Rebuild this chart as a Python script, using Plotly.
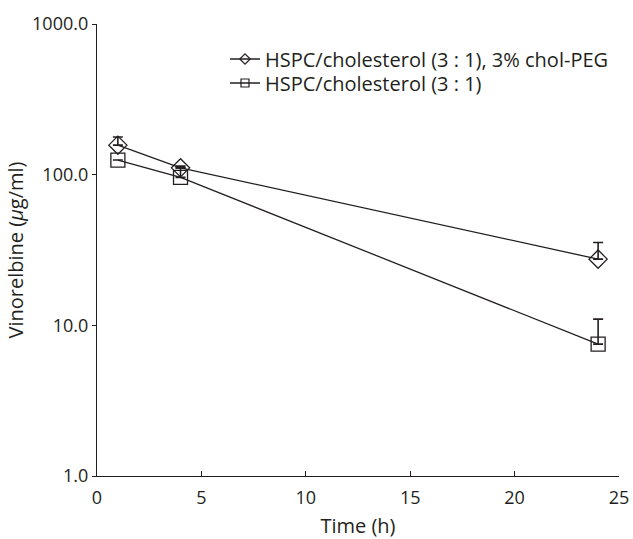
import plotly.graph_objects as go

# Sampling times (h)
time_peg = [1, 4, 24]
time_plain = [1, 4, 24]

# Vinorelbine concentration (µg/ml) with upper SD
conc_peg = [157, 111, 27.5]
err_peg = [21, 3, 8]
conc_plain = [125, 96, 7.5]
err_plain = [0, 15, 3.5]

name_peg = "HSPC/cholesterol (3 : 1), 3% chol-PEG"
name_plain = "HSPC/cholesterol (3 : 1)"

y_ticks = [1, 10, 100, 1000]
y_tick_text = ["1.0", "10.0", "100.0", "1000.0"]
x_ticks = [0, 5, 10, 15, 20, 25]

ink = "#231f20"
font_family = "Open Sans, Noto Sans, sans-serif"


def series(x, y, err, symbol):
    return go.Scatter(
        x=x, y=y, mode="lines+markers", showlegend=False,
        line=dict(color=ink, width=1.3),
        marker=dict(symbol=symbol, size=14, color=ink, line=dict(width=1.3)),
        error_y=dict(type="data", symmetric=False, array=err,
                     arrayminus=[0] * len(err), color=ink, thickness=1.6, width=5),
    )


def legend_entry(name, symbol, legend_id):
    # legend-only entry with a smaller symbol than the plotted markers
    return go.Scatter(
        x=[None], y=[None], name=name, mode="lines+markers", legend=legend_id,
        line=dict(color=ink, width=1.3),
        marker=dict(symbol=symbol, size=8, color=ink, line=dict(width=1.2)),
    )


fig = go.Figure()
fig.add_trace(series(time_peg, conc_peg, err_peg, "diamond-open"))
fig.add_trace(series(time_plain, conc_plain, err_plain, "square-open"))
fig.add_trace(legend_entry(name_peg, "diamond-open", "legend"))
fig.add_trace(legend_entry(name_plain, "square-open", "legend2"))

legend_style = dict(x=0.2452, xanchor="left", yanchor="middle",
                    bgcolor="rgba(0,0,0,0)", font=dict(size=20), itemwidth=30)

fig.update_layout(
    width=633, height=539,
    margin=dict(l=97, r=14, t=24, b=63, autoexpand=False),
    paper_bgcolor="white", plot_bgcolor="white",
    font=dict(family=font_family, size=17, color=ink),
    showlegend=True,
    legend=dict(y=0.9226, **legend_style),
    legend2=dict(y=0.8695, **legend_style),
    xaxis=dict(range=[0, 25], tickvals=x_ticks, ticks="inside", ticklen=5,
               tickcolor=ink, showline=True, linecolor=ink, linewidth=1.3,
               showgrid=False, zeroline=False, tickfont=dict(size=18),
               ticklabelstandoff=5,
               title=dict(text="Time (h)", standoff=12)),
    yaxis=dict(type="log", range=[0, 3], tickvals=y_ticks, ticktext=y_tick_text,
               ticks="outside", ticklen=4, tickcolor=ink, showline=True,
               linecolor=ink, linewidth=1.3, showgrid=False, zeroline=False,
               tickfont=dict(size=18),
               title=dict(text="Vinorelbine (<i>μ</i>g/ml)", standoff=3)),
)

fig.write_html("out.html")
